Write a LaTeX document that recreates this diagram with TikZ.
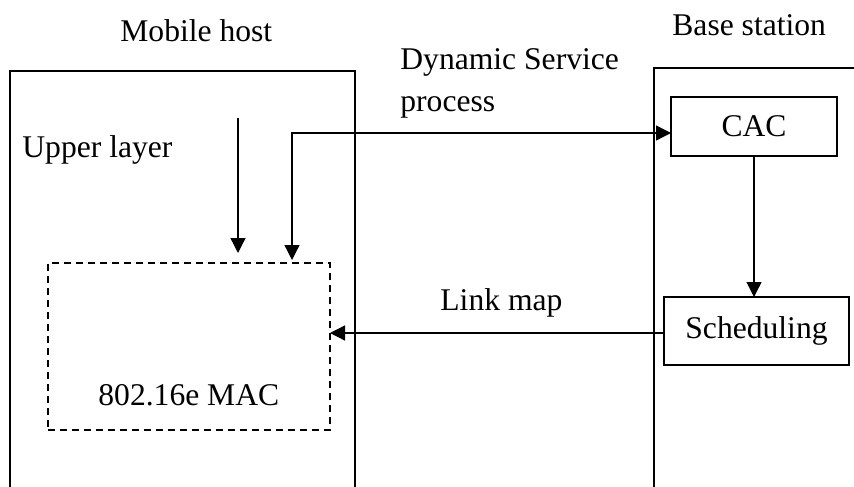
\documentclass[tikz,border=0pt]{standalone}
\usepackage{fontspec}
\setmainfont{Liberation Serif}
\usetikzlibrary{arrows.meta, positioning, calc}

\begin{document}
\begin{tikzpicture}[x=0.5pt, y=-0.5pt,
      every node/.style={font=\fontsize{15.8pt}{19pt}\selectfont},
      frame/.style={draw, line width=1pt, inner sep=0pt, outer sep=0pt},
      blk/.style={draw, line width=0.75pt, inner sep=0pt, outer sep=0pt},
      macbox/.style={draw, line width=0.75pt, dash pattern=on 3.5pt off 2.5pt,
                     inner sep=0pt, outer sep=0pt},
      lbl/.style={anchor=base west, inner sep=0pt},
      arr/.style={-{Triangle[length=7.5pt, width=7.5pt]}, line width=0.65pt},
      darr/.style={{Triangle[length=7.5pt, width=7.5pt]}-{Triangle[length=7.5pt, width=7.5pt]},
                   line width=0.65pt},
    ]
    \useasboundingbox[fill=white] (0,0) rectangle (854,486);

    % ── Frames: mobile host (left) and base station (right) ──
    \node[frame, minimum width=172.5pt, minimum height=214.5pt]
          (host) at (182.5,285.5) {};
    \node[frame, minimum width=108pt, minimum height=216pt]
          (base) at (762,284) {};
    \node[lbl] (hosttitle) at (120,42) {Mobile host};
    \node[lbl] (basetitle) at (672,36) {Base station};

    % ── Mobile host side ──
    \node[macbox, minimum width=141pt, minimum height=83.5pt]
          (mac) at (189,346.5) {};
    \node[lbl] (mactext) at (98,405) {802.16e MAC};
    \node[lbl] (upper) at (22,157) {Upper layer};

    % ── Base station side ──
    \node[blk, minimum width=83pt, minimum height=29.5pt]
          (cac) at (754,126.5) {CAC};
    \node[blk, minimum width=92.5pt, minimum height=34pt]
          (sched) at (756.5,331) {Scheduling};

    % ── Connectors ──
    \coordinate (ultop) at (238,118);
    \draw[arr] (ultop) -- ([yshift=5pt]ultop |- mac.north);

    \coordinate (dsbend) at (292,133);
    \draw[darr] ([yshift=1.5pt]dsbend |- mac.north) -- (dsbend) -- (dsbend -| cac.west);
    \node[lbl] (dstext) at (400,70) {Dynamic Service};
    \node[lbl] (proctext) at (400,112) {process};

    \draw[arr] (cac.south) -- (cac.south |- sched.north);

    \draw[arr] ([yshift=-1pt]sched.west) -- ([yshift=-1pt]sched.west -| mac.east);
    \node[lbl] (linktext) at (440,310) {Link map};
  \end{tikzpicture}
\end{document}
